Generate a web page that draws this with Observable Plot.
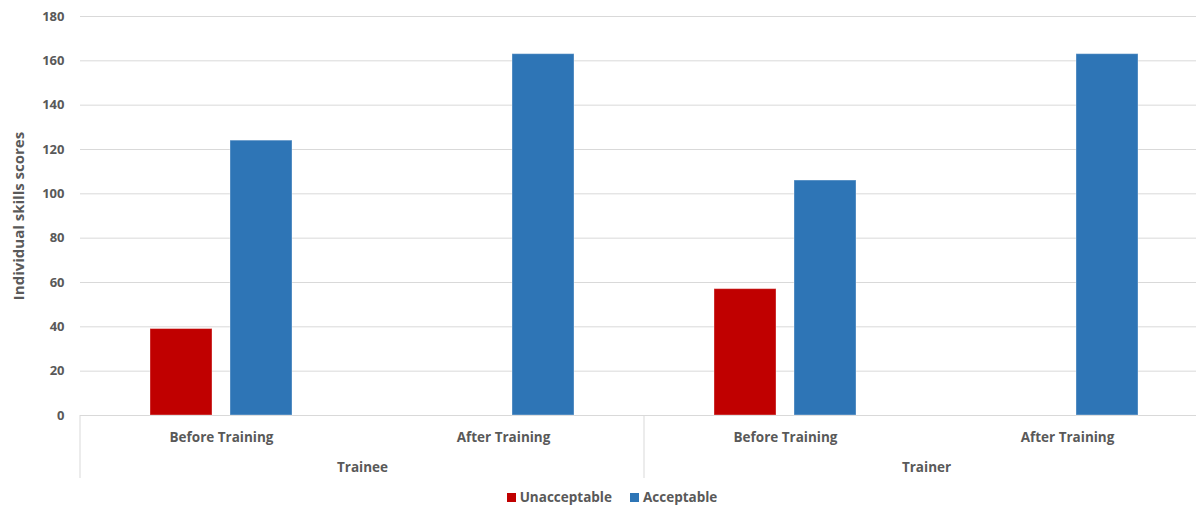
<!DOCTYPE html>
<html>
<head>
<meta charset="utf-8">
<script src="https://cdn.jsdelivr.net/npm/d3@7"></script>
<script src="https://cdn.jsdelivr.net/npm/@observablehq/plot@0.6"></script>
<style>
  html, body { margin: 0; padding: 0; background: #fff; }
  #wrap { width: 1196px; height: 508px; overflow: hidden; font-family: "Open Sans", Lato, sans-serif; }
  #chart { width: 1196px; height: 480px; overflow: hidden; }
  #chart svg { max-width: none !important; width: 1208px !important; height: 480px !important; }
  #chart svg [aria-label="y-axis label"] text { font-size: 15px; }
  #chart svg [aria-label="fx-axis tick label"] text, #chart svg [aria-label="text"] text { font-size: 13.5px; }
  #legend { display: flex; justify-content: center; align-items: center; padding-left: 28px; padding-top: 8px; line-height: 18px;
            font: bold 13.5px "Open Sans", sans-serif; color: #595959; }
  .item { display: flex; align-items: center; margin: 0 9px; }
  .sw { width: 9px; height: 9px; margin-right: 4px; }
</style>
</head>
<body>
<div id="wrap">
  <div id="chart"></div>
  <div id="legend"></div>
</div>
<script>
// ---- data ----
const groups = ["Trainee", "Trainer"];
const phases = ["Before Training", "After Training"];
const series = ["Unacceptable", "Acceptable"];
const unacceptable = [39, 0, 57, 0];   // Trainee Before, Trainee After, Trainer Before, Trainer After
const acceptable = [124, 163, 106, 163];
const yTicks = [0, 20, 40, 60, 80, 100, 120, 140, 160, 180];
const colors = ["#C00000", "#2E75B6"];

// ---- build table ----
const keys = [];
groups.forEach(g => phases.forEach(p => keys.push(g + "|" + p)));
const rows = [];
keys.forEach((k, i) => {
  rows.push({key: k, series: series[0], value: unacceptable[i]});
  rows.push({key: k, series: series[1], value: acceptable[i]});
});
const groupRows = groups.map(g => ({key: g + "|" + phases[0], label: g}));

const W = 1208, H = 480;
const chart = Plot.plot({
  width: W,
  height: H,
  marginLeft: 80,
  marginRight: 0,
  marginTop: 16,
  marginBottom: 65,
  style: {fontFamily: "'Open Sans', Lato, sans-serif", fontSize: "13px", fontWeight: "bold", color: "#595959", background: "#fff"},
  fx: {domain: keys, padding: 0, axis: "bottom", tickSize: 0, tickPadding: 17, tickFormat: d => d.split("|")[1], label: null},
  x: {domain: series, axis: null, paddingInner: 18 / 81, paddingOuter: 0.852},
  y: {domain: [0, 180], ticks: yTicks, tickSize: 0, tickPadding: 16, label: "Individual skills scores",
      labelAnchor: "center", labelArrow: "none", labelOffset: 67},
  color: {domain: series, range: colors},
  marks: [
    Plot.ruleY(yTicks, {stroke: "#d9d9d9", strokeWidth: 1}),
    Plot.barY(rows.filter(d => d.value > 0), {fx: "key", x: "series", y: "value", fill: "series",
      stroke: "#ffffff", strokeOpacity: 0.35, strokeWidth: 1}),
    Plot.text(groupRows, {fx: "key", text: "label", frameAnchor: "bottom-right", textAnchor: "middle",
      lineAnchor: "middle", dy: 52, fill: "#595959"})
  ]
});
document.getElementById("chart").appendChild(chart);

// separators between groups, positioned with Plot's fx and y scales
const fx = chart.scale("fx");
const ys = chart.scale("y");
const base = ys.apply(0);
const edges = groups.map(g => fx.apply(g + "|" + phases[0]));
edges.push(fx.apply(keys[keys.length - 1]) + fx.bandwidth);
d3.select(chart).append("g").attr("aria-label", "separators")
  .selectAll("line").data(edges).join("line")
  .attr("x1", d => d).attr("x2", d => d)
  .attr("y1", base).attr("y2", base + 63)
  .attr("stroke", "#d9d9d9").attr("stroke-width", 1);

// legend
const lg = d3.select("#legend");
series.forEach((s, i) => {
  const it = lg.append("div").attr("class", "item");
  it.append("div").attr("class", "sw").style("background", colors[i]);
  it.append("span").text(s);
});
</script>
</body>
</html>
